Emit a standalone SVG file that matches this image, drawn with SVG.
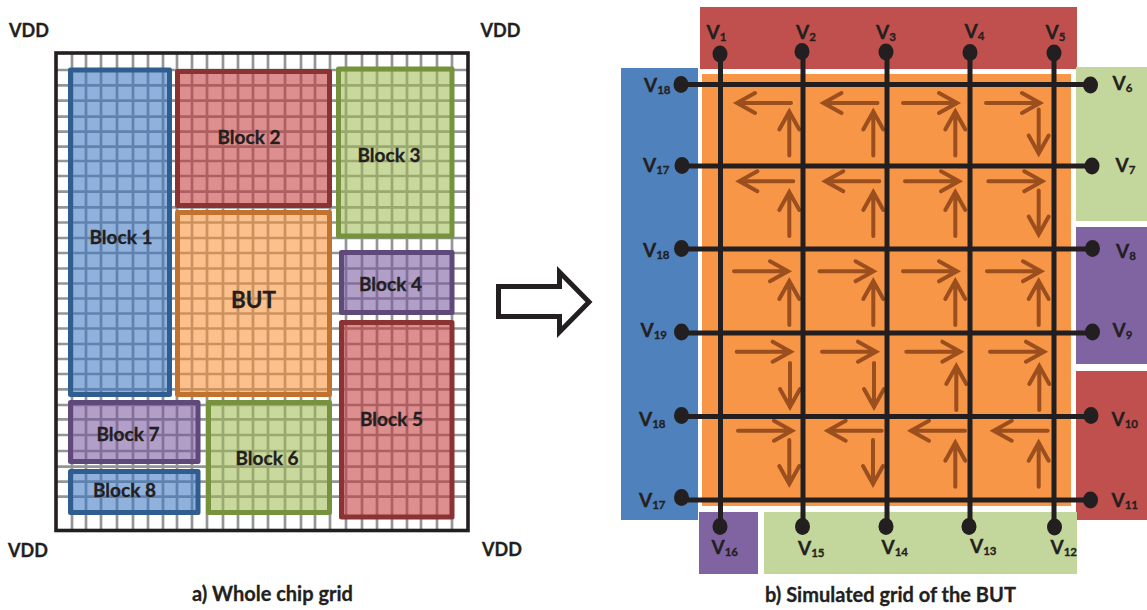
<svg xmlns="http://www.w3.org/2000/svg" width="1147" height="610" viewBox="0 0 1147 610">
<style>
text{font-family:"Lato","Liberation Sans",sans-serif;font-weight:700;fill:#231f20;stroke:#231f20;stroke-width:.3}
.t{font-size:19px}
.d{font-size:18px}
.c{font-size:20px}
.sub{font-size:11.5px}
.big{font-size:22.5px}
.g line{stroke:#939598;stroke-width:2.7}
.b{stroke-width:5;stroke-linejoin:round}
.wire{stroke:#231f20;stroke-width:5;fill:none}
.dot{fill:#231f20;stroke:none}
.blue{fill:#3774c1;fill-opacity:.56;stroke:#2f5d8f}
.red{fill:#c33636;fill-opacity:.56;stroke:#8a3332}
.green{fill:#9fba4f;fill-opacity:.56;stroke:#76923c}
.purple{fill:#76549d;fill-opacity:.56;stroke:#5f497a}
.orange{fill:#f88f32;fill-opacity:.56;stroke:#c0722e}
.ar{stroke:#9c4f1e;stroke-width:4;fill:none;stroke-linecap:round}
</style>
<defs>
<g id="h"><path class="ar" d="M-56,0H-4M-20,-10L-2,0L-20,10" stroke-linejoin="miter"/></g>
<g id="v"><path class="ar" d="M-46,0H-4M-20,-10L-2,0L-20,10" stroke-linejoin="miter"/></g>
</defs>
<g id="chip-grid" class="g">
<line x1="72" y1="53" x2="72" y2="530"/><line x1="86" y1="53" x2="86" y2="530"/><line x1="101" y1="53" x2="101" y2="530"/><line x1="117" y1="53" x2="117" y2="530"/><line x1="133" y1="53" x2="133" y2="530"/><line x1="148" y1="53" x2="148" y2="530"/><line x1="163" y1="53" x2="163" y2="530"/><line x1="177" y1="53" x2="177" y2="530"/><line x1="192" y1="53" x2="192" y2="530"/><line x1="207" y1="53" x2="207" y2="530"/><line x1="223" y1="53" x2="223" y2="530"/><line x1="238" y1="53" x2="238" y2="530"/><line x1="253" y1="53" x2="253" y2="530"/><line x1="268" y1="53" x2="268" y2="530"/><line x1="285" y1="53" x2="285" y2="530"/><line x1="301" y1="53" x2="301" y2="530"/><line x1="315" y1="53" x2="315" y2="530"/><line x1="330" y1="53" x2="330" y2="530"/><line x1="346" y1="53" x2="346" y2="530"/><line x1="362" y1="53" x2="362" y2="530"/><line x1="377" y1="53" x2="377" y2="530"/><line x1="392" y1="53" x2="392" y2="530"/><line x1="407" y1="53" x2="407" y2="530"/><line x1="421" y1="53" x2="421" y2="530"/><line x1="437" y1="53" x2="437" y2="530"/><line x1="452" y1="53" x2="452" y2="530"/>
<line x1="56" y1="70" x2="468" y2="70"/><line x1="56" y1="85.3" x2="468" y2="85.3"/><line x1="56" y1="100.7" x2="468" y2="100.7"/><line x1="56" y1="116.7" x2="468" y2="116.7"/><line x1="56" y1="131.7" x2="468" y2="131.7"/><line x1="56" y1="146.7" x2="468" y2="146.7"/><line x1="56" y1="161" x2="468" y2="161"/><line x1="56" y1="176" x2="468" y2="176"/><line x1="56" y1="191.7" x2="468" y2="191.7"/><line x1="56" y1="207.3" x2="468" y2="207.3"/><line x1="56" y1="222.5" x2="468" y2="222.5"/><line x1="56" y1="238" x2="468" y2="238"/><line x1="56" y1="253" x2="468" y2="253"/><line x1="56" y1="268.5" x2="468" y2="268.5"/><line x1="56" y1="283.5" x2="468" y2="283.5"/><line x1="56" y1="298.5" x2="468" y2="298.5"/><line x1="56" y1="313.5" x2="468" y2="313.5"/><line x1="56" y1="328.5" x2="468" y2="328.5"/><line x1="56" y1="344" x2="468" y2="344"/><line x1="56" y1="359" x2="468" y2="359"/><line x1="56" y1="374" x2="468" y2="374"/><line x1="56" y1="389.3" x2="468" y2="389.3"/><line x1="56" y1="405" x2="468" y2="405"/><line x1="56" y1="419.3" x2="468" y2="419.3"/><line x1="56" y1="435" x2="468" y2="435"/><line x1="56" y1="451" x2="468" y2="451"/><line x1="56" y1="466.7" x2="468" y2="466.7"/><line x1="56" y1="481.7" x2="468" y2="481.7"/><line x1="56" y1="496.7" x2="468" y2="496.7"/>
<rect x="56" y="53" width="412" height="477.5" fill="none" stroke="#231f20" stroke-width="3.6"/>
</g>
<g id="block1"><rect class="b blue" x="70.5" y="70" width="99" height="324.5"/><text class="t" x="89.5" y="244">Block 1</text></g>
<g id="block2"><rect class="b red" x="177.5" y="71.5" width="152" height="134"/><text class="t" x="217.5" y="144">Block 2</text></g>
<g id="block3"><rect class="b green" x="338.5" y="69" width="113.5" height="167"/><text class="t" x="357.5" y="161.5">Block 3</text></g>
<g id="but"><rect class="b orange" x="177.5" y="212.5" width="152" height="182"/><text class="big" x="231" y="308">BUT</text></g>
<g id="block4"><rect class="b purple" x="341.5" y="252.5" width="110.5" height="60"/><text class="t" x="359" y="291">Block 4</text></g>
<g id="block5"><rect class="b red" x="341.5" y="322.5" width="110.5" height="194.5"/><text class="t" x="360" y="425.5">Block 5</text></g>
<g id="block6"><rect class="b green" x="208.5" y="402.5" width="121" height="110"/><text class="t" x="235.5" y="465">Block 6</text></g>
<g id="block7"><rect class="b purple" x="70.5" y="402.5" width="127.5" height="59"/><text class="t" x="96.5" y="441">Block 7</text></g>
<g id="block8"><rect class="b blue" x="70.5" y="471.5" width="127.5" height="41"/><text class="t" x="93" y="497">Block 8</text></g>
<g id="vdd-labels"><text class="d" x="9" y="37">VDD</text><text class="d" x="480.5" y="37">VDD</text><text class="d" x="8" y="556.5">VDD</text><text class="d" x="482" y="555.5">VDD</text></g>
<text id="caption-a" class="c" x="192" y="601">a) Whole chip grid</text>
<text id="caption-b" class="c" x="765" y="601.5">b) Simulated grid of the BUT</text>
<path id="big-arrow" d="M498.5,286.5H559.5V272L589,302L559.5,332V316.5H498.5Z" fill="#fff" stroke="#231f20" stroke-width="5"/>
<g id="panels">
<rect id="p-top" x="700" y="7" width="377" height="62" fill="#c0504d"/>
<rect id="p-left" x="621" y="68" width="77" height="452" fill="#4f81bd"/>
<rect id="p-core" x="702" y="74" width="369" height="432" fill="#f79646"/>
<rect id="p-right1" x="1076" y="67" width="71" height="154" fill="#c3d69b"/>
<rect id="p-right2" x="1076" y="227" width="71" height="137" fill="#8064a2"/>
<rect id="p-right3" x="1076" y="371" width="71" height="149" fill="#c0504d"/>
<rect id="p-bot1" x="699" y="512" width="59" height="62" fill="#8064a2"/>
<rect id="p-bot2" x="764" y="512" width="313" height="62" fill="#c3d69b"/>
</g>
<g id="current-arrows">
<use href="#h" transform="translate(735,103) rotate(180)"/><use href="#h" transform="translate(821.5,103) rotate(180)"/><use href="#h" transform="translate(959,103)"/><use href="#h" transform="translate(1042,103)"/>
<use href="#v" transform="translate(789.3,109.5) rotate(-90)"/><use href="#v" transform="translate(873.3,109.5) rotate(-90)"/><use href="#v" transform="translate(955.3,109.5) rotate(-90)"/><use href="#v" transform="translate(1038.7,155.5) rotate(90)"/>
<use href="#h" transform="translate(737.3,181.3) rotate(180)"/><use href="#h" transform="translate(823.3,181.3) rotate(180)"/><use href="#h" transform="translate(961,181.3)"/><use href="#h" transform="translate(1044.3,181.3)"/>
<use href="#v" transform="translate(789.3,190) rotate(-90)"/><use href="#v" transform="translate(873.3,190) rotate(-90)"/><use href="#v" transform="translate(955.3,190) rotate(-90)"/><use href="#v" transform="translate(1038.7,236.5) rotate(90)"/>
<use href="#h" transform="translate(790,271.3)"/><use href="#h" transform="translate(875.5,271.3)"/><use href="#h" transform="translate(959,271.3)"/><use href="#h" transform="translate(1043,271.3)"/>
<use href="#v" transform="translate(789.3,279) rotate(-90)"/><use href="#v" transform="translate(873.3,279) rotate(-90)"/><use href="#v" transform="translate(955.3,279) rotate(-90)"/><use href="#v" transform="translate(1038.7,279) rotate(-90)"/>
<use href="#h" transform="translate(792.7,351.7)"/><use href="#h" transform="translate(878,351.7)"/><use href="#h" transform="translate(962.3,351.7)"/><use href="#h" transform="translate(1046,351.7)"/>
<use href="#v" transform="translate(790,409) rotate(90)"/><use href="#v" transform="translate(874,409) rotate(90)"/><use href="#v" transform="translate(956.3,364) rotate(-90)"/><use href="#v" transform="translate(1039.3,364) rotate(-90)"/>
<use href="#h" transform="translate(794,430.7)"/><use href="#h" transform="translate(825.7,430.7) rotate(180)"/><use href="#h" transform="translate(909,430.7) rotate(180)"/><use href="#h" transform="translate(991.7,430.7) rotate(180)"/>
<use href="#v" transform="translate(789.3,486) rotate(90)"/><use href="#v" transform="translate(873,486) rotate(90)"/><use href="#v" transform="translate(955.3,440.7) rotate(-90)"/><use href="#v" transform="translate(1038.7,440.7) rotate(-90)"/>
</g>
<g id="connectors" class="wire">
<line x1="720.5" y1="54" x2="720.5" y2="526.5"/><line x1="803" y1="52" x2="803" y2="526.5"/><line x1="887" y1="52" x2="887" y2="526.5"/><line x1="970" y1="52" x2="970" y2="526.5"/><line x1="1054" y1="53" x2="1054" y2="527"/>
<line x1="681" y1="84.5" x2="1091" y2="84.5"/><line x1="682" y1="166" x2="1092" y2="166"/><line x1="681" y1="249" x2="1092" y2="249"/><line x1="681" y1="333" x2="1092" y2="333"/><line x1="681" y1="416.5" x2="1091" y2="416.5"/><line x1="681" y1="500" x2="1091" y2="500"/>
</g>
<g id="terminals">
<g id="v1"><ellipse class="dot" cx="720" cy="54" rx="7.5" ry="8.5"/><text class="t" x="706.5" y="39">V<tspan class="sub" dy="2">1</tspan></text></g>
<g id="v2"><ellipse class="dot" cx="802" cy="51.5" rx="7.5" ry="8.5"/><text class="t" x="796" y="39">V<tspan class="sub" dy="2">2</tspan></text></g>
<g id="v3"><ellipse class="dot" cx="886" cy="52" rx="7.5" ry="8.5"/><text class="t" x="876" y="39">V<tspan class="sub" dy="2">3</tspan></text></g>
<g id="v4"><ellipse class="dot" cx="970" cy="52.5" rx="7.5" ry="8.5"/><text class="t" x="964.5" y="38">V<tspan class="sub" dy="2">4</tspan></text></g>
<g id="v5"><ellipse class="dot" cx="1054" cy="53" rx="7.5" ry="8.5"/><text class="t" x="1045.5" y="38.5">V<tspan class="sub" dy="2">5</tspan></text></g>
<g id="v6"><ellipse class="dot" cx="1090.5" cy="85" rx="7.5" ry="8.5"/><text class="t" x="1112.5" y="90">V<tspan class="sub" dy="2">6</tspan></text></g>
<g id="v7"><ellipse class="dot" cx="1092" cy="166" rx="7.5" ry="8.5"/><text class="t" x="1115.5" y="172">V<tspan class="sub" dy="2">7</tspan></text></g>
<g id="v8"><ellipse class="dot" cx="1092.5" cy="248.5" rx="7.5" ry="8.5"/><text class="t" x="1116" y="258">V<tspan class="sub" dy="2">8</tspan></text></g>
<g id="v9"><ellipse class="dot" cx="1092.5" cy="332" rx="7.5" ry="8.5"/><text class="t" x="1112.5" y="337">V<tspan class="sub" dy="2">9</tspan></text></g>
<g id="v10"><ellipse class="dot" cx="1091" cy="415.5" rx="7.5" ry="8.5"/><text class="t" x="1111.5" y="426">V<tspan class="sub" dy="2">10</tspan></text></g>
<g id="v11"><ellipse class="dot" cx="1090.5" cy="500" rx="7.5" ry="8.5"/><text class="t" x="1111.5" y="507">V<tspan class="sub" dy="2">11</tspan></text></g>
<g id="v12"><ellipse class="dot" cx="1054.5" cy="527" rx="7.5" ry="8.5"/><text class="t" x="1050.5" y="554">V<tspan class="sub" dy="2">12</tspan></text></g>
<g id="v13"><ellipse class="dot" cx="969" cy="526.5" rx="7.5" ry="8.5"/><text class="t" x="970" y="553">V<tspan class="sub" dy="2">13</tspan></text></g>
<g id="v14"><ellipse class="dot" cx="886" cy="526.5" rx="7.5" ry="8.5"/><text class="t" x="881.5" y="554">V<tspan class="sub" dy="2">14</tspan></text></g>
<g id="v15"><ellipse class="dot" cx="802.5" cy="526.5" rx="7.5" ry="8.5"/><text class="t" x="798" y="555">V<tspan class="sub" dy="2">15</tspan></text></g>
<g id="v16"><ellipse class="dot" cx="720" cy="526.5" rx="7.5" ry="8.5"/><text class="t" x="711.5" y="554">V<tspan class="sub" dy="2">16</tspan></text></g>
<g id="v17b"><ellipse class="dot" cx="681.5" cy="497.5" rx="7.5" ry="8.5"/><text class="t" x="639" y="506.5">V<tspan class="sub" dy="2">17</tspan></text></g>
<g id="v18c"><ellipse class="dot" cx="681.5" cy="415.5" rx="7.5" ry="8.5"/><text class="t" x="639" y="426">V<tspan class="sub" dy="2">18</tspan></text></g>
<g id="v19"><ellipse class="dot" cx="681.5" cy="332" rx="7.5" ry="8.5"/><text class="t" x="640.5" y="336.5">V<tspan class="sub" dy="2">19</tspan></text></g>
<g id="v18b"><ellipse class="dot" cx="681.5" cy="248.5" rx="7.5" ry="8.5"/><text class="t" x="643" y="256.5">V<tspan class="sub" dy="2">18</tspan></text></g>
<g id="v17a"><ellipse class="dot" cx="682" cy="165.5" rx="7.5" ry="8.5"/><text class="t" x="643" y="171.5">V<tspan class="sub" dy="2">17</tspan></text></g>
<g id="v18a"><ellipse class="dot" cx="681" cy="84.5" rx="7.5" ry="8.5"/><text class="t" x="644" y="91.5">V<tspan class="sub" dy="2">18</tspan></text></g>
</g>
</svg>
